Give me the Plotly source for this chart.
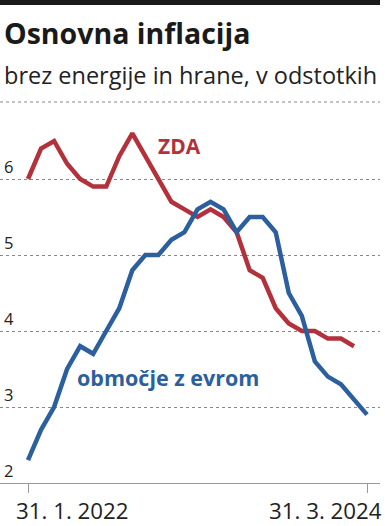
import plotly.graph_objects as go

months = ["2022-01", "2022-02", "2022-03", "2022-04", "2022-05", "2022-06", "2022-07", "2022-08",
          "2022-09", "2022-10", "2022-11", "2022-12", "2023-01", "2023-02", "2023-03", "2023-04",
          "2023-05", "2023-06", "2023-07", "2023-08", "2023-09", "2023-10", "2023-11", "2023-12",
          "2024-01", "2024-02", "2024-03"]
zda = [6.0, 6.4, 6.5, 6.2, 6.0, 5.9, 5.9, 6.3, 6.6, 6.3, 6.0, 5.7, 5.6, 5.5, 5.6, 5.5,
       5.3, 4.8, 4.7, 4.3, 4.1, 4.0, 4.0, 3.9, 3.9, 3.8]
evro = [2.3, 2.7, 3.0, 3.5, 3.8, 3.7, 4.0, 4.3, 4.8, 5.0, 5.0, 5.2, 5.3, 5.6, 5.7, 5.6,
        5.3, 5.5, 5.5, 5.3, 4.5, 4.2, 3.6, 3.4, 3.3, 3.1, 2.9]
y_ticks = [2, 3, 4, 5, 6]
x_tick_labels = ["31. 1. 2022", "31. 3. 2024"]

W, H = 385, 526
ML, MR, MT, MB = 0, 5, 120, 43
PW, PH = W - ML - MR, H - MT - MB
BOTTOM = H - MB

def px(x):
    return (x - ML) / PW

def py(y):
    return (BOTTOM - y) / PH

RED = "#b3313b"
BLUE = "#2c5f9e"
FONT = "Open Sans"

idx = list(range(len(months)))
fig = go.Figure()
fig.add_trace(go.Scatter(x=idx[:len(zda)], y=zda, mode="lines",
                         line=dict(color=RED, width=4.5), hoverinfo="skip"))
fig.add_trace(go.Scatter(x=idx, y=evro, mode="lines",
                         line=dict(color=BLUE, width=4.5), hoverinfo="skip"))

step = 339 / 26
x0 = -28 / step
x1 = 26 + (PW - 367) / step

fig.update_layout(
    width=W, height=H, margin=dict(l=ML, r=MR, t=MT, b=MB),
    paper_bgcolor="white", plot_bgcolor="white", showlegend=False,
    xaxis=dict(range=[x0, x1], tickvals=[0, len(months) - 1], showticklabels=False,
               ticks="outside", ticklen=9, tickcolor="#999", tickwidth=1,
               showgrid=False, zeroline=False, showline=True, linecolor="#999", linewidth=1.2,
               fixedrange=True),
    yaxis=dict(range=[2, 2 + PH / 76], tickvals=y_ticks[1:], showticklabels=False,
               showgrid=True, gridcolor="#888", griddash="dot", gridwidth=1,
               zeroline=False, showline=False, fixedrange=True),
)

shapes = [
    dict(type="rect", xref="paper", yref="paper", x0=px(0), x1=px(380), y0=py(5), y1=py(0),
         fillcolor="#1a1a1a", line=dict(width=0)),
    dict(type="line", xref="paper", yref="paper", x0=px(0), x1=px(380), y0=py(102), y1=py(102),
         line=dict(color="#888", width=1, dash="dot")),
]
fig.update_layout(shapes=shapes)

ann = [
    dict(text="<b>Osnovna inflacija</b>", x=px(2), y=py(33), xanchor="left", yanchor="middle",
         font=dict(family=FONT, size=28.5, color="#1a1a1a")),
    dict(text="brez energije in hrane, v odstotkih", x=px(2), y=py(75), xanchor="left",
         yanchor="middle", font=dict(family=FONT, size=23.5, color="#222")),
    dict(text=x_tick_labels[0], x=px(14), y=py(511), xanchor="left", yanchor="middle",
         font=dict(family=FONT, size=22.3, color="#222")),
    dict(text=x_tick_labels[1], x=px(384), y=py(511), xanchor="right", yanchor="middle",
         font=dict(family=FONT, size=22.3, color="#222")),
]
for a in ann:
    a.update(xref="paper", yref="paper", showarrow=False)

for v in y_ticks:
    ann.append(dict(text=str(v), xref="paper", yref="y", x=px(2), y=v, yshift=13,
                    xanchor="left", yanchor="middle", showarrow=False,
                    font=dict(family=FONT, size=16.5, color="#222")))

ann.append(dict(text="<b>ZDA</b>", xref="x", yref="y", x=11.6, y=6.43, xanchor="center",
                yanchor="middle", showarrow=False, font=dict(family=FONT, size=21, color=RED)))
ann.append(dict(text="<b>območje z evrom</b>", xref="x", yref="y", x=10.7, y=3.39,
                xanchor="center", yanchor="middle", showarrow=False,
                font=dict(family=FONT, size=21.5, color=BLUE)))
fig.update_layout(annotations=ann)

fig.write_html("out.html", config={"displayModeBar": False},
               post_script="document.body.style.margin='0';document.body.style.padding='0';")
